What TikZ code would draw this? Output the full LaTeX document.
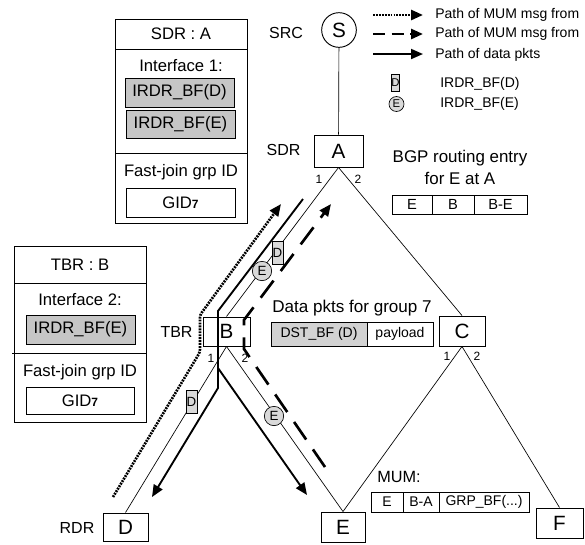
\documentclass[tikz,border=0pt]{standalone}
\usepackage{fontspec}
\setmainfont{Liberation Sans}
\usetikzlibrary{arrows.meta}
\newcommand{\gidseven}{GID\raisebox{-0.3pt}{\fontsize{9}{9}\selectfont\bfseries 7}}
\begin{document}
\begin{tikzpicture}[x=0.75pt,y=-0.75pt,
  nodebox/.style={draw, line width=0.7pt, inner sep=0pt, font=\fontsize{15.5}{15.5}\selectfont},
  rolelbl/.style={font=\fontsize{12}{12}\selectfont, inner sep=0pt},
  portlbl/.style={font=\fontsize{9}{9}\selectfont, inner sep=0pt},
  paneltxt/.style={font=\fontsize{12.5}{12.5}\selectfont, inner sep=0pt},
  panelbox/.style={draw, line width=0.7pt, inner sep=0pt},
  cellbox/.style={draw, line width=0.7pt, inner sep=0pt, font=\fontsize{12.5}{12.5}\selectfont},
  graycell/.style={cellbox, fill=gray!45},
  tcell/.style={draw, line width=0.7pt, inner sep=0pt, font=\fontsize{10.5}{10.5}\selectfont},
  tree/.style={line width=0.5pt},
  dmark/.style={draw, line width=0.5pt, fill=gray!30, inner sep=0pt, minimum width=8.5pt, minimum height=17pt, font=\fontsize{10}{10}\selectfont},
  emark/.style={draw, circle, line width=0.5pt, fill=gray!30, inner sep=0pt, minimum size=14.5pt, font=\fontsize{10}{10}\selectfont},
  arrowend/.style={-{Triangle[length=9pt,width=7.5pt]}},
  dotpath/.style={line width=2pt, dash pattern=on 1.4pt off 0.8pt},
  dashpath/.style={line width=2pt, dash pattern=on 16pt off 9pt},
  solidpath/.style={line width=1.4pt},
  legtxt/.style={font=\fontsize{10.5}{10.5}\selectfont, inner sep=0pt, anchor=west},
]
\useasboundingbox (0,0) rectangle (585,544);

% ---------- panel SDR : A ----------
\node[panelbox, minimum width=99pt, minimum height=153pt] (pa) at (181,121) {};
\draw[line width=0.7pt] (115,49) -- (247,49);
\draw[line width=0.7pt] (115,153) -- (247,153);
\node[paneltxt] (pat) at (181,34) {SDR : A};
\node[paneltxt] (pai) at (181,66) {Interface 1:};
\node[graycell, minimum width=81.75pt, minimum height=21.75pt] (pad) at (179.5,92.5) {IRDR\_BF(D)};
\node[graycell, minimum width=81.75pt, minimum height=21pt] (pae) at (180.5,124) {IRDR\_BF(E)};
\node[paneltxt] (paf) at (181,172) {Fast-join grp ID};
\node[cellbox, minimum width=81.75pt, minimum height=21.75pt] (pag) at (180.5,202.5) {\gidseven};

% ---------- panel TBR : B ----------
\node[panelbox, minimum width=99pt, minimum height=132pt] (pb) at (80,334) {};
\draw[line width=0.7pt] (14,283) -- (146,283);
\draw[line width=0.7pt] (12,353) -- (146,353);
\node[paneltxt] (pbt) at (80,265) {TBR : B};
\node[paneltxt] (pbi) at (80,300) {Interface 2:};
\node[graycell, minimum width=81.75pt, minimum height=21.75pt] (pbe) at (80.5,329.5) {IRDR\_BF(E)};
\node[paneltxt] (pbf) at (80,372) {Fast-join grp ID};
\node[cellbox, minimum width=81pt, minimum height=20.25pt] (pbg) at (80,400.5) {\gidseven};

% ---------- tree nodes ----------
\node[nodebox, circle, minimum size=26pt] (S) at (339,30) {S};
\node[nodebox, minimum width=36.75pt, minimum height=24pt] (A) at (338.5,151) {A};
\node[nodebox, minimum width=35.25pt, minimum height=21.75pt] (B) at (226.5,331.5) {B};
\node[nodebox, minimum width=34.5pt, minimum height=22.5pt] (C) at (462,331) {C};
\node[nodebox, minimum width=33.75pt, minimum height=21pt] (D) at (125.5,527) {D};
\node[nodebox, minimum width=33pt, minimum height=22.5pt] (E) at (343,527) {E};
\node[nodebox, minimum width=35.25pt, minimum height=22.5pt] (F) at (559.5,523) {F};

\node[rolelbl] (lsrc) at (286,33) {SRC};
\node[rolelbl] (lsdr) at (283.5,150) {SDR};
\node[rolelbl] (ltbr) at (176.5,332) {TBR};
\node[rolelbl] (lrdr) at (77,528) {RDR};

\node[portlbl] (pA1) at (319,179) {1};
\node[portlbl] (pA2) at (358,179) {2};
\node[portlbl] (pB1) at (211,358) {1};
\node[portlbl] (pB2) at (245,358) {2};
\node[portlbl] (pC1) at (447,356) {1};
\node[portlbl] (pC2) at (477,356) {2};

\draw[tree] (S) -- (A);
\draw[tree] (A.south) -- (B.north);
\draw[tree] (A.south) -- (C.north);
\draw[tree] (B.south) -- (D.north);
\draw[tree] (B.south) -- (E.north);
\draw[tree] (C.south) -- (E.north);
\draw[tree] (C.south) -- (F.north);

% ---------- thick paths ----------
\coordinate (dt0) at (113,497);
\coordinate (dt1) at (200,352);
\coordinate (dt2) at (200,315);
\coordinate (dt3) at (281,204);
\draw[dotpath, arrowend, rounded corners=2pt] (dt0) -- (dt1) -- (dt2) -- (dt3);

\coordinate (so0) at (303,199);
\coordinate (so1) at (218,311);
\coordinate (so2) at (218,388);
\coordinate (so3) at (152,497);
\coordinate (sob) at (218,368);
\coordinate (so4) at (307,495);
\draw[solidpath, arrowend] (so0) -- (so1) -- (so2) -- (so3);
\draw[solidpath, arrowend] (sob) -- (so4);

\coordinate (da0) at (325,467);
\coordinate (da1) at (244,349);
\coordinate (da2) at (244,320);
\coordinate (da3) at (331,204);
\draw[dashpath, arrowend] (da0) -- (da1) -- (da2) -- (da3);

% ---------- markers on links ----------
\node[dmark] (md1) at (277.5,253) {D};
\node[emark] (me1) at (262,271) {E};
\node[dmark] (md2) at (191.5,402) {D};
\node[emark] (me2) at (274,416) {E};

% ---------- data packet ----------
\node[font=\fontsize{12.8}{12.8}\selectfont, inner sep=0pt] (dpt) at (352,308) {Data pkts for group 7};
\node[tcell, fill=gray!35, minimum width=72pt, minimum height=18pt] (dp1) at (319,334) {DST\_BF (D)};
\node[tcell, minimum width=49.5pt, minimum height=18pt] (dp2) at (400,334) {payload};

% ---------- BGP entry ----------
\node[font=\fontsize{12.7}{12.7}\selectfont, inner sep=0pt] (bgp1) at (460,158) {BGP routing entry};
\node[font=\fontsize{12.7}{12.7}\selectfont, inner sep=0pt] (bgp2) at (460,178) {for E at A};
\node[tcell, font=\fontsize{11}{11}\selectfont, minimum width=30pt, minimum height=14.25pt] (bg1) at (412,204.5) {E};
\node[tcell, font=\fontsize{11}{11}\selectfont, minimum width=31.5pt, minimum height=14.25pt] (bg2) at (453,204.5) {B};
\node[tcell, font=\fontsize{11}{11}\selectfont, minimum width=39.75pt, minimum height=14.25pt] (bg3) at (500.5,204.5) {B-E};

% ---------- MUM ----------
\node[font=\fontsize{12.2}{12.2}\selectfont, inner sep=0pt, anchor=west] (mumt) at (377,477) {MUM:};
\node[tcell, minimum width=24pt, minimum height=15pt] (mu1) at (387,502) {E};
\node[tcell, minimum width=27pt, minimum height=15pt] (mu2) at (421,502) {B-A};
\node[tcell, minimum width=67.5pt, minimum height=15pt] (mu3) at (484,502) {GRP\_BF(...)};

% ---------- legend ----------
\coordinate (lg1a) at (373,15);  \coordinate (lg1b) at (423,15);
\coordinate (lg2a) at (373,34);  \coordinate (lg2b) at (423,34);
\coordinate (lg3a) at (373,54);  \coordinate (lg3b) at (423,54);
\draw[dotpath, arrowend] (lg1a) -- (lg1b);
\draw[line width=2pt, dash pattern=on 9pt off 5pt, arrowend] (lg2a) -- (lg2b);
\draw[solidpath, arrowend] (lg3a) -- (lg3b);
\node[legtxt] (lt1) at (435,15) {Path of MUM msg from};
\node[legtxt] (lt2) at (435,34) {Path of MUM msg from};
\node[legtxt] (lt3) at (435,55) {Path of data pkts};
\node[dmark, minimum width=6pt, minimum height=12.75pt, font=\fontsize{8.5}{8.5}\selectfont] (lgd) at (395.5,83) {D};
\node[emark, minimum size=11.25pt, font=\fontsize{8.5}{8.5}\selectfont] (lge) at (396.5,104) {E};
\node[legtxt] (lt4) at (440,84) {IRDR\_BF(D)};
\node[legtxt] (lt5) at (440,104) {IRDR\_BF(E)};
\end{tikzpicture}
\end{document}
